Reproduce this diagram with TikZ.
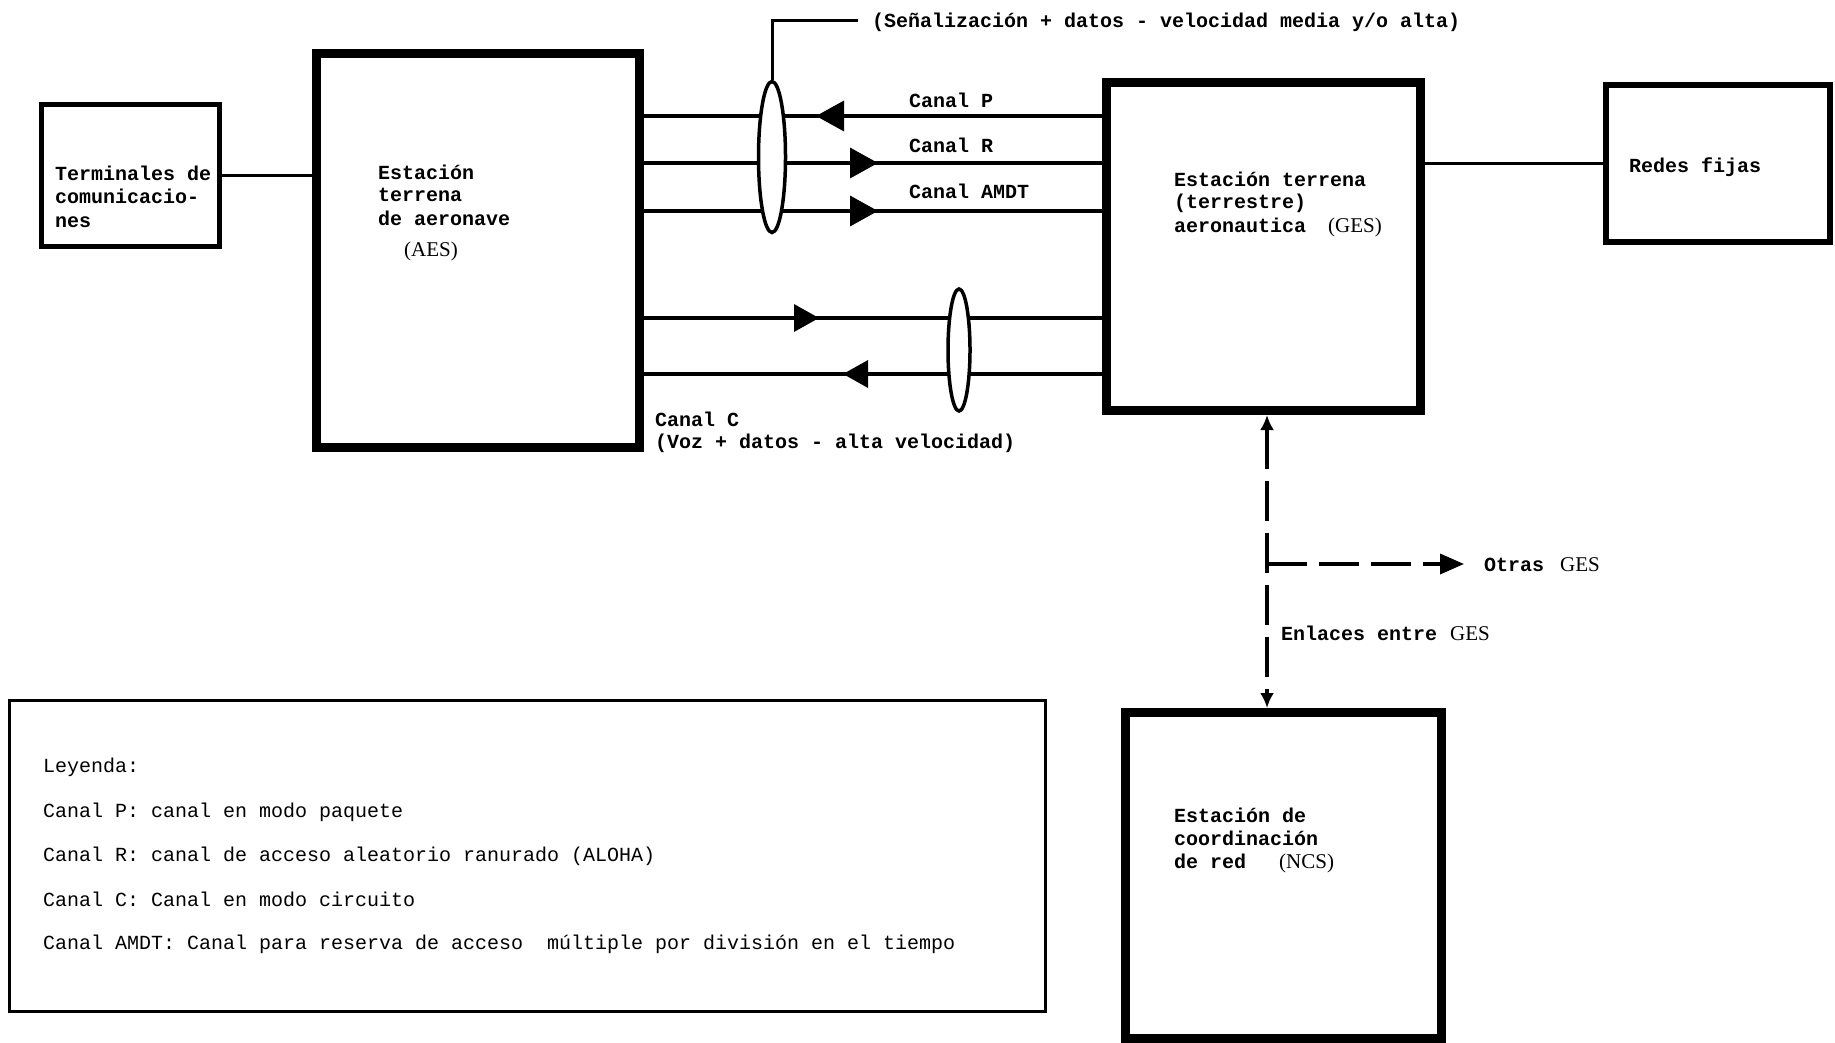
\documentclass[tikz,border=0pt]{standalone}
\usepackage{fontspec}
\setmainfont{Liberation Mono}
\newfontfamily\serifalt{Liberation Serif}
\usetikzlibrary{arrows.meta,decorations.markings,shapes.geometric}
\tikzset{
  bigtri/.tip={Triangle[length=28pt,width=30pt]},
  smalltri/.tip={Triangle[length=25pt,width=27pt]}
}
\begin{document}
\begin{tikzpicture}[x=1pt,y=-1pt,
  box/.style={draw, inner sep=0pt, line width=#1},
  lbl/.style={anchor=base west, inner sep=0pt, font=\fontsize{20}{23}\selectfont\bfseries},
  leglbl/.style={anchor=base west, inner sep=0pt, font=\fontsize{20}{23}\selectfont},
  chan/.style={line width=3.5pt},
  ell/.style={ellipse, draw, fill=white, line width=3.5pt, inner sep=0pt},
  dlink/.style={line width=3.5pt, dash pattern=on 40pt off 12pt}
]
\useasboundingbox (0,0) rectangle (1835,1043);
\fill[white] (0,0) rectangle (1835,1043);

% boxes
\node[box=5pt, minimum width=178pt, minimum height=142pt] (term) at (130.5,175.5) {};
\node[box=9pt, minimum width=323pt, minimum height=394pt] (aes) at (478,250.5) {};
\node[box=9pt, minimum width=314pt, minimum height=328pt] (ges) at (1263.5,246.5) {};
\node[box=6pt, minimum width=224pt, minimum height=157pt] (redes) at (1718,163.5) {};
\node[box=9pt, minimum width=316pt, minimum height=326pt] (ncs) at (1283.5,875.5) {};
\node[box=3pt, minimum width=1036pt, minimum height=311pt] (leg) at (527.5,856) {};

% box texts
\node[lbl] (t1) at (55,181) {Terminales de};
\node[lbl] (t2) at (55,204) {comunicacio-};
\node[lbl] (t3) at (55,227) {nes};
\node[lbl] (a1) at (378,179) {Estación};
\node[lbl] (a2) at (378,201) {terrena};
\node[lbl] (a3) at (378,225) {de aeronave};
\node[lbl, font=\fontsize{21}{23}\selectfont\serifalt] (a4) at (404,256) {(AES)};
\node[lbl] (g1) at (1174,186) {Estación terrena};
\node[lbl] (g2) at (1174,208) {(terrestre)};
\node[lbl] (g3) at (1174,232) {aeronautica\hspace{22pt}{\mdseries\fontsize{21}{23}\selectfont\serifalt (GES)}};
\node[lbl] (r1) at (1629,173) {Redes fijas};
\node[lbl] (n1) at (1174,822) {Estación de};
\node[lbl] (n2) at (1174,845) {coordinación};
\node[lbl] (n3) at (1174,868) {de red\hspace{33pt}{\mdseries\fontsize{21}{23}\selectfont\serifalt (NCS)}};

% connectors
\draw[line width=2.5pt] (term.east) -- (term.east -| aes.west);
\draw[chan] (ges.east |- redes.west) -- (redes.west);

\coordinate (yP) at (0,116);
\coordinate (yR) at (0,163);
\coordinate (yA) at (0,211);
\coordinate (yC1) at (0,318);
\coordinate (yC2) at (0,374);

\draw[chan, postaction={decorate}, decoration={markings, mark=at position 172pt with {\arrowreversed{bigtri}}}]
  (aes.east |- yP) -- (ges.west |- yP);
\draw[chan, postaction={decorate}, decoration={markings, mark=at position 234pt with {\arrow{bigtri}}}]
  (aes.east |- yR) -- (ges.west |- yR);
\draw[chan, postaction={decorate}, decoration={markings, mark=at position 234pt with {\arrow{bigtri}}}]
  (aes.east |- yA) -- (ges.west |- yA);
\draw[chan, postaction={decorate}, decoration={markings, mark=at position 175pt with {\arrow{smalltri}}}]
  (aes.east |- yC1) -- (ges.west |- yC1);
\draw[chan, postaction={decorate}, decoration={markings, mark=at position 199pt with {\arrowreversed{smalltri}}}]
  (aes.east |- yC2) -- (ges.west |- yC2);

% ellipses grouping channels
\node[ell, minimum width=27pt, minimum height=151pt] (e1) at (772,157) {};
\node[ell, minimum width=22pt, minimum height=122pt] (e2) at (959,350) {};

\coordinate (sigend) at (858,21);
\draw[line width=3pt] (e1.north) |- (sigend);

% channel labels
\node[lbl] (sig) at (872,28) {(Señalización + datos - velocidad media y/o alta)};
\node[lbl] (lp) at (909,108) {Canal P};
\node[lbl] (lr) at (909,153) {Canal R};
\node[lbl] (la) at (909,199) {Canal AMDT};
\node[lbl] (lc1) at (655,426) {Canal C};
\node[lbl] (lc2) at (655,448) {(Voz + datos - alta velocidad)};

% links between GES
\coordinate (jv) at (1267,564);
\coordinate (otras) at (1464,564);
\draw[dlink, {Latex[length=15pt,width=14pt]}-{Latex[length=15pt,width=14pt]}]
  (jv |- ges.south) -- (jv |- ncs.north);
\draw[dlink, -{Triangle[length=24pt,width=20pt]}] (jv) -- (otras);
\node[lbl] (lo) at (1484,571) {Otras\hspace{16pt}{\mdseries\fontsize{21}{23}\selectfont\serifalt GES}};
\node[lbl] (le) at (1281,640) {Enlaces entre\hspace{13pt}{\mdseries\fontsize{21}{23}\selectfont\serifalt GES}};

% legend
\node[leglbl] (l0) at (43,772) {Leyenda:};
\node[leglbl] (l1) at (43,817) {Canal P: canal en modo paquete};
\node[leglbl] (l2) at (43,861) {Canal R: canal de acceso aleatorio ranurado (ALOHA)};
\node[leglbl] (l3) at (43,906) {Canal C: Canal en modo circuito};
\node[leglbl] (l4) at (43,949) {Canal AMDT: Canal para reserva de acceso~ múltiple por división en el tiempo};
\end{tikzpicture}
\end{document}
